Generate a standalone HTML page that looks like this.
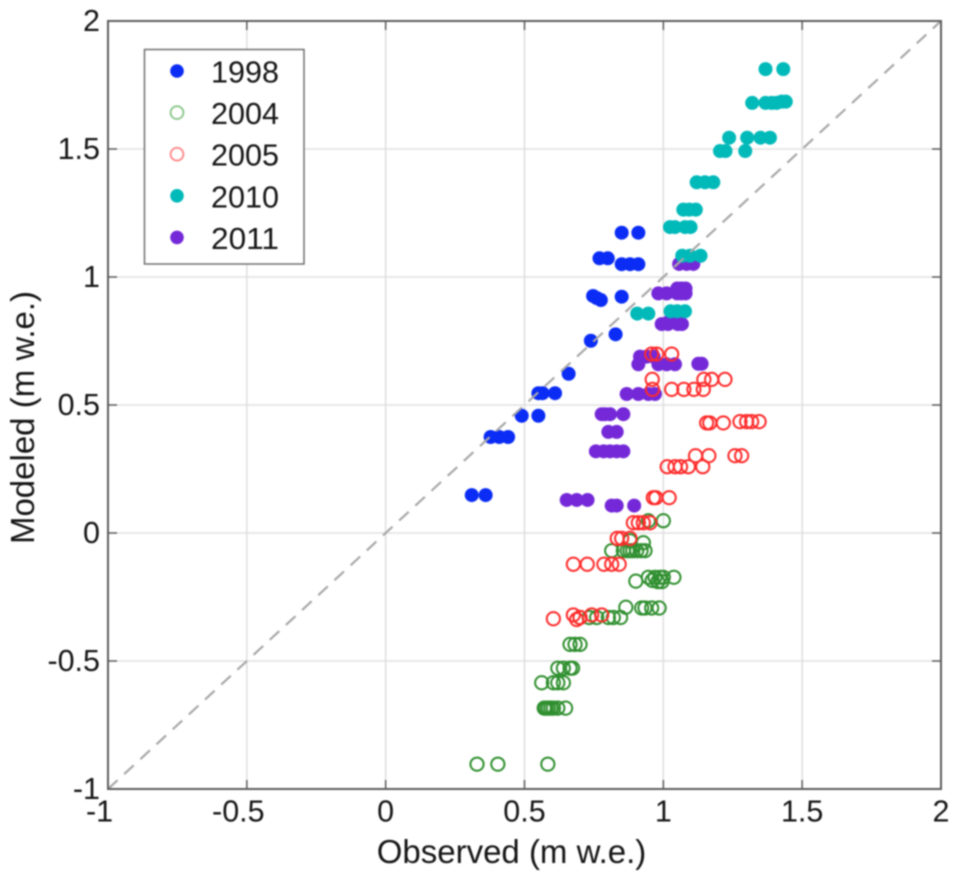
<!DOCTYPE html>
<html lang="en">
<head>
<meta charset="utf-8">
<title>Observed vs Modeled</title>
<style>
html,body{margin:0;padding:0;background:#fff;width:957px;height:885px;overflow:hidden}
svg{display:block;filter:blur(0.8px)}
text{font-family:"Liberation Sans",Arial,sans-serif;fill:#161616}
</style>
</head>
<body>
<svg id="chart" xmlns="http://www.w3.org/2000/svg" width="957" height="885" viewBox="0 0 957 885"></svg>
<script>
const xTicks = [-1, -0.5, 0, 0.5, 1, 1.5, 2];
const yTicks = [-1, -0.5, 0, 0.5, 1, 1.5, 2];
const xTitle = "Observed (m w.e.)";
const yTitle = "Modeled (m w.e.)";
const legendYears = ["1998", "2004", "2005", "2010", "2011"];

const x1998 = [.85,.91,.77,.80,.85,.88,.91,.747,.76,.775,.85,.828,.739,.659,.55,.565,.61,.49,.55,.378,.409,.441,.31,.36];
const y1998 = [1.173,1.173,1.073,1.073,1.05,1.05,1.05,.926,.918,.91,.923,.776,.751,.622,.546,.546,.546,.458,.458,.375,.375,.375,.148,.148];

const x2004 = [.946,1.0,.88,.928,.814,.856,.87,.88,.89,.904,.92,.934,.901,.946,.97,.988,1.0,1.038,.96,.98,.995,.865,.922,.934,.958,.985,.70,.733,.76,.802,.82,.846,.664,.682,.70,.62,.64,.664,.673,.562,.604,.62,.64,.571,.578,.586,.595,.604,.62,.648,.329,.404,.584];
const y2004 = [.048,.048,-.03,-.038,-.069,-.069,-.069,-.069,-.069,-.069,-.069,-.069,-.188,-.173,-.173,-.173,-.173,-.173,-.185,-.19,-.19,-.29,-.293,-.293,-.293,-.293,-.33,-.33,-.33,-.33,-.33,-.33,-.435,-.435,-.435,-.528,-.528,-.528,-.528,-.585,-.585,-.585,-.585,-.684,-.684,-.684,-.684,-.684,-.684,-.684,-.903,-.903,-.903];

const x2005 = [.958,.976,1.03,.96,.961,1.03,1.074,1.11,1.144,1.146,1.174,1.222,1.156,1.167,1.216,1.276,1.3,1.318,1.345,1.116,1.164,1.258,1.282,1.014,1.042,1.062,1.09,1.142,.964,.973,1.021,.892,.91,.928,.952,.834,.85,.88,.676,.726,.786,.814,.841,.604,.676,.688,.70,.742,.778];
const y2005 = [.699,.699,.699,.6,.561,.561,.561,.561,.561,.6,.6,.6,.43,.43,.43,.435,.435,.435,.435,.302,.302,.302,.302,.259,.259,.259,.259,.259,.138,.138,.138,.04,.04,.04,.04,-.021,-.021,-.021,-.122,-.122,-.122,-.122,-.122,-.335,-.32,-.338,-.33,-.32,-.32];

const x2010 = [1.368,1.432,1.32,1.368,1.39,1.408,1.426,1.441,1.237,1.302,1.35,1.384,1.204,1.224,1.295,1.12,1.15,1.18,1.072,1.093,1.117,1.024,1.042,1.078,1.098,1.068,1.096,1.134,.906,.946,1.026,1.05,1.078];
const y2010 = [1.812,1.812,1.68,1.68,1.68,1.68,1.685,1.685,1.544,1.544,1.544,1.544,1.492,1.492,1.492,1.37,1.37,1.37,1.263,1.263,1.263,1.195,1.195,1.195,1.195,1.083,1.083,1.083,.857,.857,.866,.866,.866];

const x2011 = [1.057,1.084,1.108,.982,1.012,1.05,1.065,1.08,1.05,1.065,1.08,.994,1.017,1.052,1.067,1.02,1.035,.916,.94,.965,.91,.982,1.012,1.042,1.126,1.138,.868,.91,.946,.97,.778,.79,.808,.856,.802,.832,.757,.785,.808,.832,.856,.652,.688,.727,.814,.832,.895];
const y2011 = [1.051,1.051,1.051,.936,.936,.955,.955,.955,.936,.936,.936,.816,.816,.816,.816,.825,.825,.689,.689,.689,.659,.659,.659,.659,.661,.661,.543,.543,.543,.543,.464,.464,.464,.464,.395,.395,.319,.319,.319,.319,.319,.129,.129,.129,.107,.107,.107];

const NS = "http://www.w3.org/2000/svg";
const svg = document.getElementById("chart");
const L = 108, R = 941, T = 21, B = 789;
const xMin = -1, xMax = 2, yMin = -1, yMax = 2;
function sx(v){ return L + (v - xMin) / (xMax - xMin) * (R - L); }
function sy(v){ return B - (v - yMin) / (yMax - yMin) * (B - T); }
function mk(tag, attrs, parent){
  const el = document.createElementNS(NS, tag);
  for (const k in attrs) el.setAttribute(k, attrs[k]);
  (parent || svg).appendChild(el);
  return el;
}

// grid
const gridG = mk("g", {});


xTicks.forEach(function(t){
  if (t === xMin || t === xMax) return;
  const g = mk("line", {x1:sx(t), x2:sx(t), y1:T, y2:B, stroke:"#e0e0e0", "stroke-width":1.6}, gridG);
  
  
});
yTicks.forEach(function(t){
  if (t === yMin || t === yMax) return;
  const g = mk("line", {x1:L, x2:R, y1:sy(t), y2:sy(t), stroke:"#e0e0e0", "stroke-width":1.6}, gridG);
  
  
});

// series
function drawSeries(name, xs, ys, filled, color){
  const g = mk("g", {});
  
  
  xs.forEach(function(x, i){
    const c = mk("circle", filled
      ? {cx:sx(x), cy:sy(ys[i]), r:7, fill:color}
      : {cx:sx(x), cy:sy(ys[i]), r:6.6, fill:"none", stroke:color, "stroke-width":2}, g);
    
    
  });
}
const BLUE = "#0a2cf5", GREEN = "#2f8f2f", RED = "#ff2a2a", TEAL = "#00b9b9", PURPLE = "#7428d8";
drawSeries("1998", x1998, y1998, true, BLUE);
drawSeries("2011", x2011, y2011, true, PURPLE);
drawSeries("2010", x2010, y2010, true, TEAL);

// identity line
const idLine = mk("line", {x1:sx(-1), y1:sy(-1), x2:sx(2), y2:sy(2), stroke:"#a8a8a8", "stroke-width":2.2, "stroke-dasharray":"13 9"});



drawSeries("2004", x2004, y2004, false, GREEN);
drawSeries("2005", x2005, y2005, false, RED);

// axes box
const box = mk("rect", {x:L, y:T, width:R-L, height:B-T, fill:"none", stroke:"#5e5e5e", "stroke-width":2});



// ticks and labels
xTicks.forEach(function(t){
  [[B, B-9],[T, T+9]].forEach(function(p){
    if (t === xMin || t === xMax) return;
    const k = mk("line", {x1:sx(t), x2:sx(t), y1:p[0], y2:p[1], stroke:"#5e5e5e", "stroke-width":1.5});
    
    
  });
  const lab = mk("text", {x:sx(t) - (t < 0 ? 8.5 : 0), y:821.5, "font-size":30.5, "text-anchor":"middle"});
  lab.textContent = String(t);
  
  
});
yTicks.forEach(function(t){
  [[L, L+9],[R, R-9]].forEach(function(p){
    if (t === yMin || t === yMax) return;
    const k = mk("line", {x1:p[0], x2:p[1], y1:sy(t), y2:sy(t), stroke:"#5e5e5e", "stroke-width":1.5});
    
    
  });
  const lab = mk("text", {x:100, y:sy(t) + 10, "font-size":30.5, "text-anchor":"end"});
  lab.textContent = String(t);
  
  
});

// axis titles
const xt = mk("text", {x:511.5, y:863, "font-size":33, "text-anchor":"middle"});
xt.textContent = xTitle;


const yt = mk("text", {x:0, y:0, "font-size":33, "text-anchor":"middle", transform:"translate(34 417.5) rotate(-90)"});
yt.textContent = yTitle;



// legend
const legend = mk("g", {});


const lb = mk("rect", {x:144.5, y:49.5, width:159.5, height:214.5, fill:"#fff", stroke:"#707070", "stroke-width":1.5}, legend);


const legendMarks = [
  {fill:BLUE, stroke:"none", sw:0},
  {fill:"none", stroke:"#8cc78c", sw:1.9},
  {fill:"none", stroke:"#ff8a8a", sw:1.9},
  {fill:TEAL, stroke:"none", sw:0},
  {fill:PURPLE, stroke:"none", sw:0}
];
legendYears.forEach(function(year, i){
  const cy = 71 + i * 41.6;
  const entry = mk("g", {}, legend);
  
  
  const m = legendMarks[i];
  const c = mk("circle", {cx:177, cy:cy, r:m.sw ? 6.4 : 6.8, fill:m.fill, stroke:m.stroke, "stroke-width":m.sw}, entry);
  
  
  const t = mk("text", {x:211, y:cy + 11.5, "font-size":30.5, textLength:68, lengthAdjust:"spacingAndGlyphs"}, entry);
  t.textContent = year;
  
  
});
</script>
</body>
</html>
